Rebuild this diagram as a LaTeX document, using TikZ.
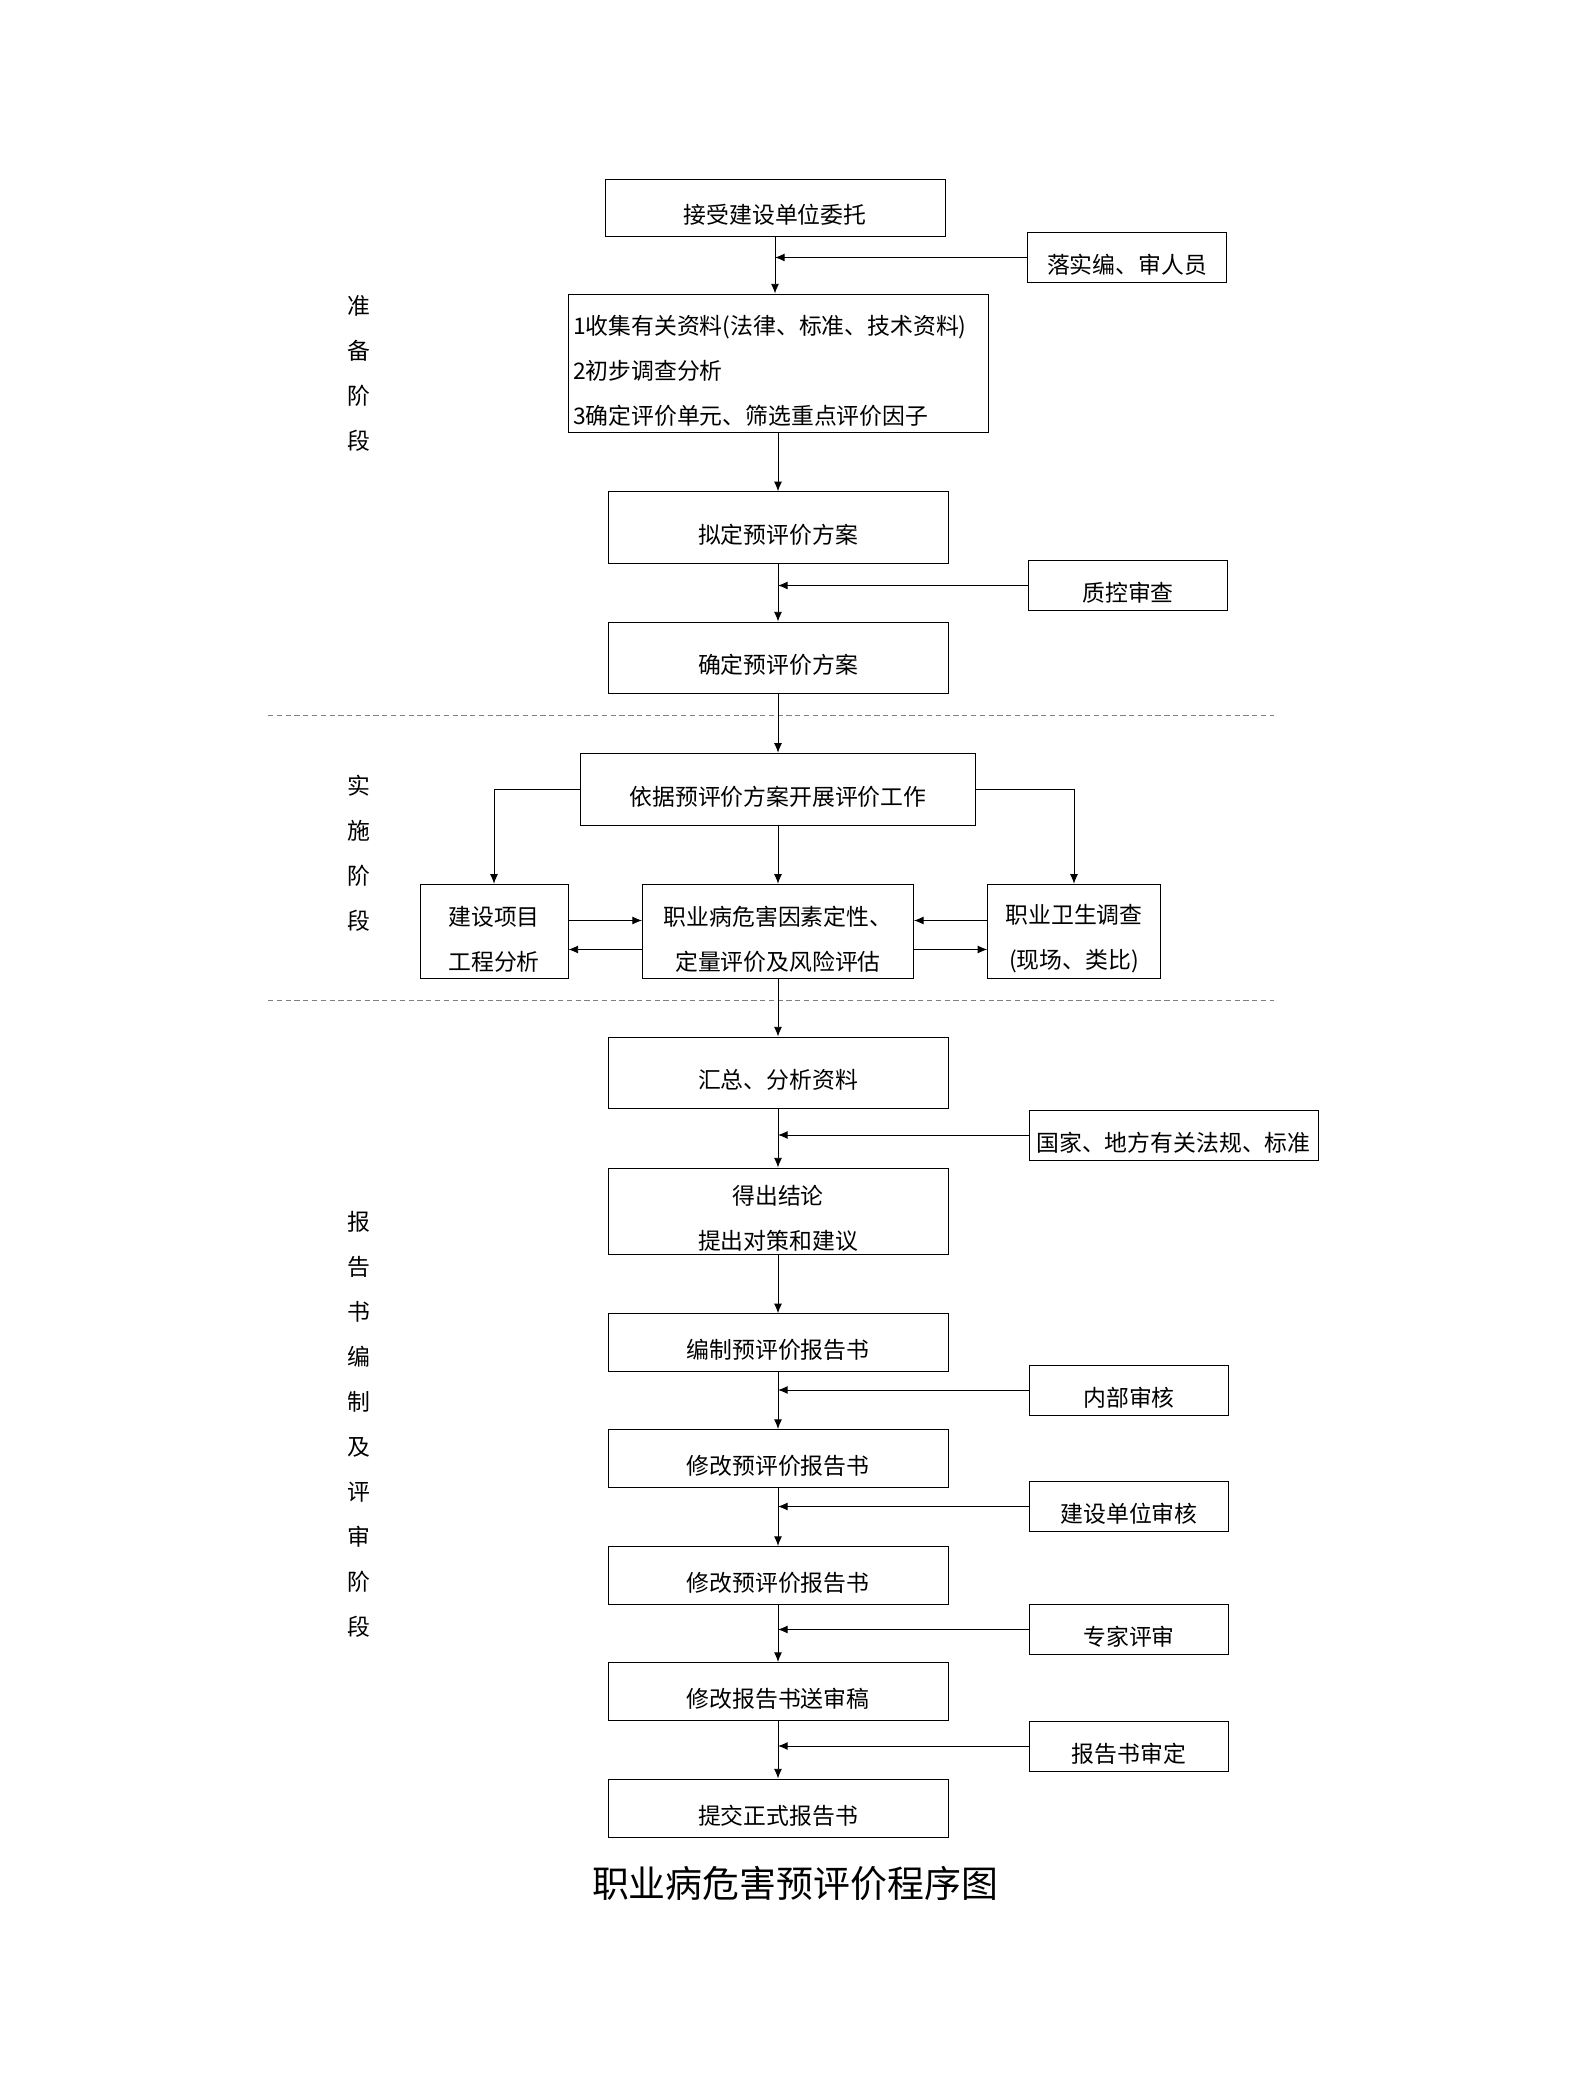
\documentclass[tikz,border=0pt]{standalone}
\usepackage{fontspec}
\newfontfamily\cjk{Noto Sans CJK SC}
\usetikzlibrary{arrows.meta}

\begin{document}
\begin{tikzpicture}[
    every node/.style={font=\cjk\fontsize{13}{25.6}\selectfont, inner sep=0pt},
    mainbox/.style={draw, line width=0.55pt, minimum width=6.8cm, minimum height=1.16cm, align=center,
      execute at begin node={\rule{0pt}{19.5pt}}},
    sidebox/.style={draw, line width=0.55pt, minimum width=3.98cm, minimum height=0.99cm, align=center,
      execute at begin node={\rule{0pt}{19.5pt}}},
    stagelbl/.style={align=center},
    flow/.style={line width=0.5pt, -{Latex[length=5.5pt,width=4.5pt]}},
    sepline/.style={gray, dash pattern=on 3pt off 2pt, line width=0.6pt}
  ]
  \useasboundingbox (0,0) rectangle (31.74,41.58);

  % Stage labels
  \node[stagelbl] (st1) at (7.17,34.11) {准\\备\\阶\\段};
  \node[stagelbl] (st2) at (7.17,24.51) {实\\施\\阶\\段};
  \node[stagelbl] (st3) at (7.17,13.09) {报\\告\\书\\编\\制\\及\\评\\审\\阶\\段};

  % Stage separators
  \draw[sepline] (5.36,27.27) -- (25.48,27.27);
  \draw[sepline] (5.36,21.57) -- (25.48,21.57);

  % Preparation
  \node[mainbox, minimum height=1.14cm] (b1) at (15.50,37.43) {接受建设单位委托};
  \node[sidebox] (s1) at (22.54,36.43) {落实编、审人员};
  \node[mainbox, minimum width=8.4cm, minimum height=2.76cm, text width=8.2cm, align=left] (b2) at (15.56,34.32)
    {1收集有关资料(法律、标准、技术资料)\\2初步调查分析\\3确定评价单元、筛选重点评价因子};
  \node[mainbox, minimum height=1.43cm] (b3) at (15.56,31.03) {拟定预评价方案};
  \node[sidebox] (s2) at (22.56,29.87) {质控审查};
  \node[mainbox, minimum height=1.42cm] (b4) at (15.56,28.43) {确定预评价方案};

  % Implementation
  \node[mainbox, minimum width=7.89cm, minimum height=1.45cm] (b5) at (15.56,25.79) {依据预评价方案开展评价工作};
  \node[mainbox, minimum width=2.96cm, minimum height=1.89cm, text width=2.9cm] (b6) at (9.88,22.95) {建设项目\\工程分析};
  \node[mainbox, minimum width=5.42cm, minimum height=1.89cm, text width=5.3cm] (b7) at (15.56,22.95) {职业病危害因素定性、\\定量评价及风险评估};
  \node[mainbox, minimum width=3.45cm, minimum height=1.89cm, text width=3.4cm] (b8) at (21.48,22.95) {职业卫生调查\\(现场、类比)};

  % Report
  \node[mainbox, minimum height=1.42cm] (b9) at (15.56,20.13) {汇总、分析资料};
  \node[sidebox, minimum width=5.78cm, minimum height=1.0cm] (s3) at (23.47,18.88) {国家、地方有关法规、标准};
  \node[mainbox, minimum height=1.72cm, text width=6.7cm] (b10) at (15.56,17.36) {得出结论\\提出对策和建议};
  \node[mainbox, minimum height=1.15cm] (b11) at (15.56,14.73) {编制预评价报告书};
  \node[sidebox, minimum height=1.0cm] (s4) at (22.58,13.78) {内部审核};
  \node[mainbox] (b12) at (15.56,12.41) {修改预评价报告书};
  \node[sidebox, minimum height=1.0cm] (s5) at (22.58,11.45) {建设单位审核};
  \node[mainbox] (b13) at (15.56,10.07) {修改预评价报告书};
  \node[sidebox, minimum height=1.0cm] (s6) at (22.58,8.99) {专家评审};
  \node[mainbox] (b14) at (15.56,7.75) {修改报告书送审稿};
  \node[sidebox, minimum height=1.0cm] (s7) at (22.58,6.66) {报告书审定};
  \node[mainbox] (b15) at (15.56,5.42) {提交正式报告书};

  % Title
  \node[font=\cjk\fontsize{21}{25}\selectfont] (title) at (15.90,3.90) {职业病危害预评价程序图};

  % Main flow
  \draw[flow] (b1.south) -- (b1.south |- b2.north);
  \draw[flow] (b2) -- (b3);
  \draw[flow] (b3) -- (b4);
  \draw[flow] (b4) -- (b5);
  \draw[flow] (b5) -- (b7);
  \draw[flow] (b5.west) -| (b6.north);
  \draw[flow] (b5.east) -| (b8.north);
  \draw[flow] (b7) -- (b9);
  \draw[flow] (b9) -- (b10);
  \draw[flow] (b10) -- (b11);
  \draw[flow] (b11) -- (b12);
  \draw[flow] (b12) -- (b13);
  \draw[flow] (b13) -- (b14);
  \draw[flow] (b14) -- (b15);

  % Exchange between analysis boxes
  \draw[flow] ([yshift=0.22cm]b6.east) -- ([yshift=0.22cm]b6.east -| b7.west);
  \draw[flow] ([yshift=-0.36cm]b7.west) -- ([yshift=-0.36cm]b7.west -| b6.east);
  \draw[flow] ([yshift=0.22cm]b8.west) -- ([yshift=0.22cm]b8.west -| b7.east);
  \draw[flow] ([yshift=-0.36cm]b7.east) -- ([yshift=-0.36cm]b7.east -| b8.west);

  % Side inputs
  \draw[flow] (s1.west) -- (s1.west -| b1.south);
  \draw[flow] (s2.west) -- (s2.west -| b3.south);
  \draw[flow] (s3.west) -- (s3.west -| b9.south);
  \draw[flow] (s4.west) -- (s4.west -| b11.south);
  \draw[flow] (s5.west) -- (s5.west -| b12.south);
  \draw[flow] (s6.west) -- (s6.west -| b13.south);
  \draw[flow] (s7.west) -- (s7.west -| b14.south);
\end{tikzpicture}
\end{document}
